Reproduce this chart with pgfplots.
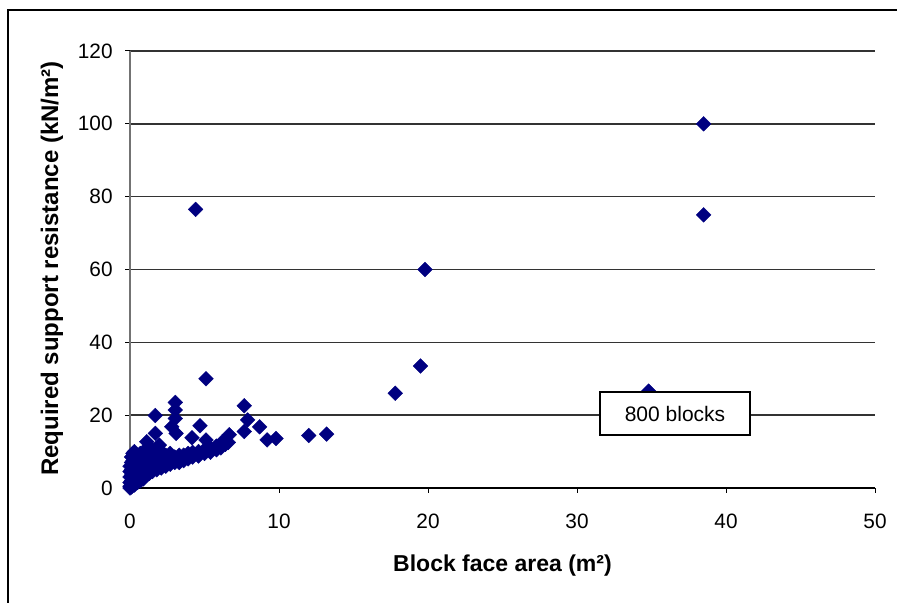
\documentclass[border=0pt]{standalone}
\usepackage{pgfplots}
\pgfplotsset{compat=1.18}
\usepackage{fontspec}
\setmainfont{Liberation Sans}
\definecolor{navyb}{RGB}{0,0,128}
\begin{document}
\begin{tikzpicture}
\useasboundingbox (0,0) rectangle (448.5pt,301.5pt);
\draw[line width=1pt] (4pt,0) -- (4pt,296.5pt) -- (449pt,296.5pt);
\begin{axis}[
  at={(65pt,57.5pt)}, anchor=south west,
  scale only axis, width=372.5pt, height=218.5pt,
  xmin=0, xmax=50, ymin=0, ymax=120,
  xtick={0,10,...,50}, ytick={0,20,...,120},
  axis lines*=left,
  axis line style={-},
  x axis line style={black, line width=0.6pt},
  y axis line style={black!55, line width=0.6pt},
  ymajorgrids,
  major grid style={black!80, line width=0.7pt},
  tick align=outside, major tick length=2.5pt,
  tick style={black, line width=0.5pt},
  /pgf/number format/assume math mode=true,
  tick label style={font=\fontsize{10.4pt}{12pt}\selectfont, inner sep=0pt},
  yticklabel style={xshift=-6pt},
  xticklabel style={yshift=-10.5pt},
  clip=false,
]
\addplot[only marks, mark=square*, mark size=2.6pt,
  mark options={rotate=45, draw=navyb, fill=navyb, line width=0.2pt}]
coordinates {
(38.5,100) (38.5,75) (19.8,60) (4.4,76.5) (19.5,33.5) (17.8,26) (34.8,26.6)
(5.1,30) (3.04,23.5) (3.04,21.4) (3.04,19.1) (2.8,16.8) (3.09,15.0)
(1.7,19.9) (1.7,15.0) (1.12,12.7) (4.7,17.1) (4.16,13.8) (5.1,13.2)
(6.66,14.6) (6.2,12.7) (5.77,10.9) (7.67,22.6) (7.9,18.7) (7.67,15.5)
(8.7,16.8) (9.2,13.2) (9.8,13.6) (12.0,14.4) (13.2,14.8) (0.29,10.0) (1.97,11.8)
(0,0) (0,0.5) (0,1.5) (0,3) (0,4.5) (0,6)
(0.1,0.3) (0.1,2) (0.1,3.5) (0.1,5) (0.1,7) (0.1,8.5)
(0.2,1) (0.2,2.5) (0.2,4) (0.2,5.5) (0.2,7.5) (0.2,9.5)
(0.3,0.8) (0.3,3) (0.3,6) (0.3,8)
(0.5,1.5) (0.5,3) (0.5,4.5) (0.5,6) (0.5,7.5) (0.5,9)
(0.7,2) (0.7,3.5) (0.7,5) (0.7,6.5) (0.7,8) (0.7,9.5)
(0.9,2.5) (0.9,4) (0.9,5.5) (0.9,7) (0.9,8.5) (0.9,10)
(1.1,3.5) (1.1,5) (1.1,6.5) (1.1,8) (1.1,9.5)
(1.3,4) (1.3,5.5) (1.3,7) (1.3,8.5) (1.3,10)
(1.5,4.5) (1.5,6) (1.5,7.5) (1.5,9) (1.5,10.5)
(1.8,5) (1.8,6.5) (1.8,8) (1.8,9.5)
(2.1,5.5) (2.1,7) (2.1,8.5) (2.1,10)
(2.4,6) (2.4,7.5) (2.4,9)
(2.7,6.5) (2.7,8) (2.7,9.5)
(3.0,7) (3.0,8.5)
(3.3,7) (3.3,8) (3.3,9)
(3.6,7.5) (3.6,9)
(3.9,8) (3.9,9.5)
(4.2,8.5) (4.2,9.8)
(4.6,8.8) (4.6,10)
(5.0,9.5) (5.0,10.5)
(5.4,9.8) (5.4,11)
(5.8,10.5) (5.8,11.5)
(6.1,11) (6.1,12)
(6.4,12) (6.4,13)
(6.6,12.5)
};
\end{axis}
\node[draw=black, fill=white, line width=0.75pt, minimum width=75pt, minimum height=21.5pt,
  inner sep=0pt, font=\fontsize{10.5pt}{12pt}\selectfont] at (337.5pt,94.75pt) {800 blocks};
\node[anchor=base, font=\bfseries\fontsize{11.5pt}{13pt}\selectfont] at (251.25pt,15.5pt) {Block face area (m²)};
\node[rotate=90, anchor=base, font=\bfseries\fontsize{12pt}{14pt}\selectfont] at (29pt,167.25pt) {Required support resistance (kN/m²)};
\end{tikzpicture}
\end{document}
